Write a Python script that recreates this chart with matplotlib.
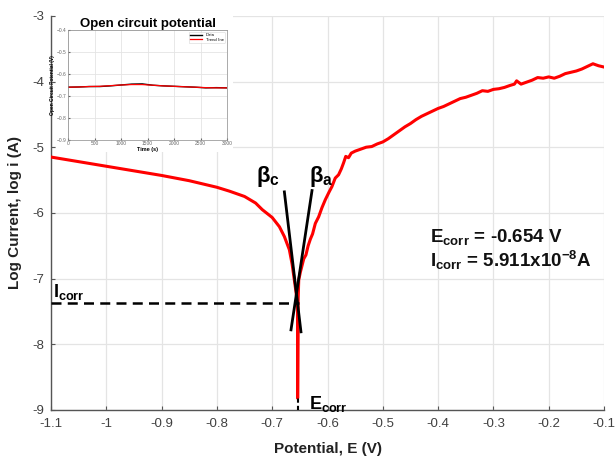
import matplotlib
matplotlib.use("Agg")
import matplotlib.pyplot as plt

plt.rcParams['font.family'] = ['Liberation Sans', 'DejaVu Sans']
plt.rcParams['mathtext.fontset'] = 'custom'
plt.rcParams['mathtext.rm'] = 'Liberation Sans'
plt.rcParams['mathtext.bf'] = 'Liberation Sans:bold'
plt.rcParams['mathtext.it'] = 'Liberation Sans:italic'

# ---- main polarization curve data ----
cath_E = [-1.10, -1.05, -1.00, -0.95, -0.90, -0.85, -0.80, -0.777, -0.75, -0.73,
          -0.718, -0.70, -0.687, -0.678, -0.669, -0.664, -0.660, -0.657, -0.655, -0.654,
          -0.654, -0.654, -0.654]
cath_logI = [-5.15, -5.22, -5.29, -5.36, -5.43, -5.51, -5.61, -5.67, -5.75, -5.85,
             -5.95, -6.07, -6.21, -6.36, -6.56, -6.78, -7.02, -7.20, -7.35, -7.55,
             -7.95, -8.40, -8.82]
anod_E = [-0.6535, -0.653, -0.652, -0.649, -0.646, -0.643, -0.639, -0.635, -0.631, -0.627,
          -0.622, -0.616, -0.610, -0.604, -0.597, -0.592, -0.586, -0.580, -0.575, -0.571,
          -0.567, -0.562, -0.557, -0.550, -0.540, -0.530, -0.520, -0.510, -0.500, -0.490,
          -0.480, -0.470, -0.460, -0.450, -0.440, -0.430, -0.420, -0.410, -0.400, -0.390,
          -0.380, -0.370, -0.360, -0.350, -0.340, -0.330, -0.320, -0.310, -0.300, -0.290,
          -0.280, -0.270, -0.262, -0.258, -0.250, -0.240, -0.230, -0.220, -0.210, -0.200,
          -0.190, -0.180, -0.170, -0.160, -0.150, -0.140, -0.130, -0.120, -0.110, -0.100]
anod_logI = [-8.00, -7.30, -7.02, -6.90, -6.80, -6.70, -6.64, -6.50, -6.40, -6.32,
             -6.16, -6.06, -5.92, -5.80, -5.68, -5.60, -5.47, -5.42, -5.33, -5.24,
             -5.14, -5.16, -5.09, -5.06, -5.03, -5.00, -4.99, -4.95, -4.92, -4.87,
             -4.81, -4.75, -4.69, -4.64, -4.58, -4.53, -4.49, -4.45, -4.41, -4.38,
             -4.34, -4.30, -4.26, -4.24, -4.21, -4.18, -4.14, -4.15, -4.12, -4.11,
             -4.09, -4.06, -4.04, -3.99, -4.04, -4.01, -3.98, -3.94, -3.95, -3.93,
             -3.95, -3.92, -3.88, -3.86, -3.84, -3.81, -3.77, -3.73, -3.76, -3.78]

# Tafel lines
betac_E = [-0.678, -0.648]
betac_logI = [-5.68, -7.81]
betaa_E = [-0.628, -0.666]
betaa_logI = [-5.66, -7.78]

Ecorr = -0.654
logIcorr = -7.367

xticks = [-1.1, -1.0, -0.9, -0.8, -0.7, -0.6, -0.5, -0.4, -0.3, -0.2, -0.1]
xticklabels = ['-1.1', '-1', '-0.9', '-0.8', '-0.7', '-0.6', '-0.5', '-0.4', '-0.3', '-0.2', '-0.1']
yticks = [-9, -8, -7, -6, -5, -4, -3]
yticklabels = ['-9', '-8', '-7', '-6', '-5', '-4', '-3']

# ---- inset OCP data ----
ocp_t = [0, 200, 400, 600, 800, 1000, 1200, 1400, 1600, 1800, 2000, 2200, 2400, 2600, 2800, 3000]
ocp_data = [-0.660, -0.659, -0.657, -0.657, -0.654, -0.650, -0.646, -0.645, -0.651, -0.654,
            -0.656, -0.658, -0.660, -0.663, -0.662, -0.663]
ocp_trend = [-0.660, -0.659, -0.657, -0.656, -0.653, -0.650, -0.648, -0.648, -0.651, -0.654,
             -0.656, -0.658, -0.660, -0.662, -0.663, -0.663]
inset_xticks = [0, 500, 1000, 1500, 2000, 2500, 3000]
inset_yticks = [-0.9, -0.8, -0.7, -0.6, -0.5, -0.4]

fig = plt.figure(figsize=(6.15, 4.58), dpi=100)
ax = fig.add_axes([51/615, 48/458, 553/615, 394.2/458])

E_all = cath_E + anod_E
I_all = cath_logI + anod_logI
ax.plot(E_all, I_all, color='#ff0000', lw=2.2, zorder=3)
ax.plot(betac_E, betac_logI, color='black', lw=2.0, zorder=4)
ax.plot(betaa_E, betaa_logI, color='black', lw=2.0, zorder=4)
ax.plot([-1.1, -0.652], [logIcorr, logIcorr], color='black', lw=1.8, ls=(0, (4, 2.5)), zorder=4)
ax.plot([Ecorr, Ecorr], [-9.0, -8.8], color='black', lw=1.5, ls=(0, (2, 1.5)), zorder=4, clip_on=False)

ax.set_xlim(-1.1, -0.1)
ax.set_ylim(-9, -3)
ax.set_xticks(xticks)
ax.set_xticklabels(xticklabels)
ax.set_yticks(yticks)
ax.set_yticklabels(yticklabels)
ax.grid(True, color='#e4e4e4', lw=0.9)
ax.set_axisbelow(True)
for s in ['top', 'right']:
    ax.spines[s].set_visible(False)
for s in ['left', 'bottom']:
    ax.spines[s].set_color('#555555')
    ax.spines[s].set_linewidth(1.0)
ax.tick_params(direction='in', length=3, colors='#555555', labelcolor='#404040', labelsize=9.5)
ax.tick_params(axis='x', pad=5.5)
ax.tick_params(axis='y', pad=5)
ax.set_xlabel('Potential, E (V)', fontsize=11, fontweight='bold', color='#222222', labelpad=9)
ax.set_ylabel('Log Current, log i (A)', fontsize=11, fontweight='bold', color='#222222', labelpad=7)

ax.text(-0.708, -5.45, r'$\mathbf{\beta_c}$', fontsize=16, ha='center', va='center', zorder=5)
ax.text(-0.612, -5.45, r'$\mathbf{\beta_a}$', fontsize=16, ha='center', va='center', zorder=5)
ax.text(-1.097, -7.28, r'I$_{\mathbf{corr}}$', fontsize=13, fontweight='bold', ha='left', va='baseline', zorder=5)
ax.text(-0.633, -8.98, r'E$_{\mathbf{corr}}$', fontsize=13, fontweight='bold', ha='left', va='baseline', zorder=5)
ax.text(-0.414, -6.45, r'E$_{\mathbf{corr}}$ = -0.654 V', fontsize=13.5, fontweight='bold', ha='left', va='baseline', color='#111111', zorder=5)
ax.text(-0.414, -6.83, r'I$_{\mathbf{corr}}$ = 5.911x10$^{\mathbf{-8}}$A', fontsize=13.5, fontweight='bold', ha='left', va='baseline', color='#111111', zorder=5)

# white background patch for inset
bg = fig.add_axes([56/615, (458-152)/458, 177/615, 137/458])
bg.set_facecolor('white')
bg.set_xticks([]); bg.set_yticks([])
for s in bg.spines.values():
    s.set_visible(False)

ins = fig.add_axes([68/615, (458-140)/458, 159/615, 110/458])
ins.plot(ocp_t, ocp_data, color='black', lw=1.0, label='Data')
ins.plot(ocp_t, ocp_trend, color='#ff0000', lw=0.9, label='Trend line')
ins.set_xlim(0, 3000)
ins.set_ylim(-0.9, -0.4)
ins.set_xticks(inset_xticks)
ins.set_yticks(inset_yticks)
ins.grid(True, color='#e4e4e4', lw=0.6)
ins.tick_params(labelsize=3.5, length=1.5, direction='in', pad=1, colors='#666666')
for s in ins.spines.values():
    s.set_color('#888888'); s.set_linewidth(0.5)
ins.set_xlabel('Time (s)', fontsize=4, fontweight='bold', labelpad=0.5)
ins.set_ylabel('Open Circuit Potential (V)', fontsize=3.5, fontweight='bold', labelpad=1)
ins.set_title('Open circuit potential', fontsize=9.5, fontweight='bold', pad=1.5)
leg = ins.legend(loc='upper right', fontsize=3, frameon=True, handlelength=3, borderpad=0.3, labelspacing=0.1)
leg.get_frame().set_linewidth(0.4)

fig.savefig('out.png', dpi=100)
